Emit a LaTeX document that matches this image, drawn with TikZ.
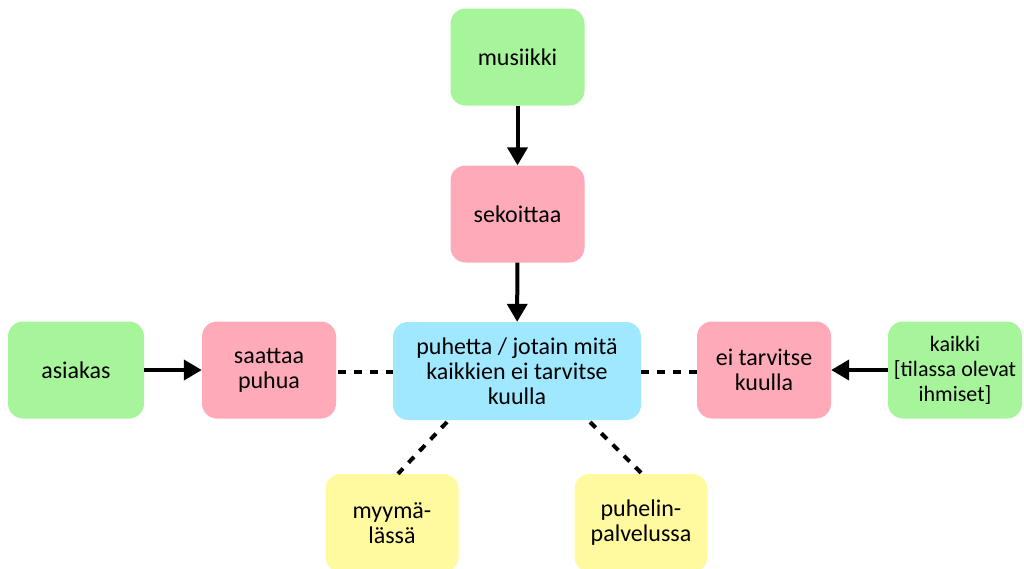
\documentclass[tikz,border=0pt]{standalone}
\usepackage{fontspec}
\setmainfont{Carlito}
\usetikzlibrary{arrows.meta}
\definecolor{cgreen}{RGB}{166,245,154}
\definecolor{cpink}{RGB}{255,170,185}
\definecolor{cblue}{RGB}{160,232,255}
\definecolor{cyellow}{RGB}{255,250,160}
\tikzset{
  box/.style={rounded corners=15pt, minimum width=134pt, minimum height=97pt,
    align=center, inner sep=2pt, font=\fontsize{24}{25}\selectfont},
  gbox/.style={box, fill=cgreen},
  pbox/.style={box, fill=cpink},
  bbox/.style={box, fill=cblue, minimum width=248pt, minimum height=98pt},
  ybox/.style={box, fill=cyellow, minimum width=133pt, minimum height=98pt},
  arr/.style={line width=4pt, -{Triangle[length=18pt,width=20pt]}},
  dsh/.style={line width=4pt, dash pattern=on 8pt off 8pt}
}
\begin{document}
\begin{tikzpicture}[x=1pt,y=-1pt]
\useasboundingbox (0,0) rectangle (1024,568);
\clip (0,0) rectangle (1024,568);
\node[gbox] (mus) at (517.5,57) {musiikki};
\node[pbox] (sek) at (517.5,214) {sekoittaa};
\node[bbox] (cen) at (517,371) {puhetta / jotain mitä\\kaikkien ei tarvitse\\kuulla};
\node[gbox, minimum width=136pt] (asi) at (76,370) {asiakas};
\node[pbox] (saa) at (269,370) {saattaa\\puhua};
\node[pbox] (eit) at (764,370) {ei tarvitse\\kuulla};
\node[gbox, font=\fontsize{22}{25}\selectfont] (kai) at (955,370) {kaikki\\{}[tilassa olevat\\ihmiset]};
\node[ybox] (myy) at (392,523) {myymä-\\lässä};
\node[ybox] (puh) at (641,523) {puhelin-\\palvelussa};
\draw[arr] (mus) -- (sek);
\draw[arr] (sek) -- (cen);
\draw[arr] (asi) -- (saa);
\draw[arr] (kai) -- (eit);
\draw[dsh] (saa.east |- 0,372) ++(2,0) -- (cen.west |- 0,372);
\draw[dsh] (cen.east |- 0,372) -- (eit.west |- 0,372);
\coordinate (c1) at (447,422);
\coordinate (c2) at (590,422);
\draw[dsh] (c1) -- (myy.north -| 398,0);
\draw[dsh] (c2) -- (puh.north -| 642,0);
\end{tikzpicture}
\end{document}
